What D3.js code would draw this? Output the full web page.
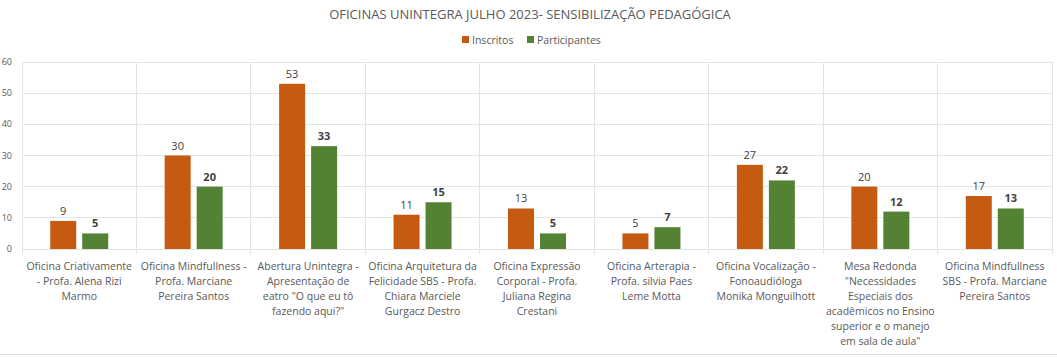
<!DOCTYPE html>
<html><head><meta charset="utf-8">
<script src="https://cdn.jsdelivr.net/npm/d3@7"></script>
<style>body{margin:0;background:#fff}svg{display:block}text{font-family:"Open Sans",sans-serif}</style>
</head><body><svg id="c" width="1057" height="357"></svg>
<script>
const categories = [
 "Oficina Criativamente\n- Profa. Alena Rizi\nMarmo",
 "Oficina Mindfullness -\nProfa. Marciane\nPereira Santos",
 "Abertura Unintegra -\nApresentação de\neatro \"O que eu tô\nfazendo aqui?\"",
 "Oficina Arquitetura da\nFelicidade SBS - Profa.\nChiara Marciele\nGurgacz Destro",
 "Oficina Expressão\nCorporal - Profa.\nJuliana Regina\nCrestani",
 "Oficina Arterapia -\nProfa. silvia Paes\nLeme Motta",
 "Oficina Vocalização -\nFonoaudióloga\nMonika Monguilhott",
 "Mesa Redonda\n\"Necessidades\nEspeciais dos\nacadêmicos no Ensino\nsuperior e o manejo\nem sala de aula\"",
 "Oficina Mindfullness\nSBS - Profa. Marciane\nPereira Santos"
];
const inscritos = [9, 30, 53, 11, 13, 5, 27, 20, 17];
const participantes = [5, 20, 33, 15, 5, 7, 22, 12, 13];
const seriesNames = ["Inscritos", "Participantes"];
const yTicks = [0, 10, 20, 30, 40, 50, 60];
const title = "OFICINAS UNINTEGRA JULHO 2023- SENSIBILIZAÇÃO PEDAGÓGICA";

const colors = ["#C55A11", "#548235"];
const svg = d3.select("#c");
const L = 22, R = 1052, T = 62, B = 249;
const x = d3.scaleBand().domain(d3.range(categories.length)).range([L, R]).paddingInner(0).paddingOuter(0);
const y = d3.scaleLinear().domain([0, 60]).range([B, T]);
const series = [inscritos, participantes];

// gridlines
svg.append("g").selectAll("line").data(yTicks).join("line")
  .attr("x1", L).attr("x2", R).attr("y1", d => y(d)).attr("y2", d => y(d))
  .attr("stroke", "#e3e3e3").attr("stroke-width", 1).attr("shape-rendering","crispEdges");
// vertical category separators
const seps = d3.range(categories.length + 1).map(i => i < categories.length ? x(i) : R);
svg.append("g").selectAll("line").data(seps).join("line")
  .attr("x1", d => d).attr("x2", d => d).attr("y1", T).attr("y2", B + 5)
  .attr("stroke", "#e3e3e3").attr("shape-rendering","crispEdges");

// y labels
svg.append("g").selectAll("text").data(yTicks).join("text")
  .attr("x", 12).attr("y", d => y(d) + 3).attr("text-anchor", "end")
  .attr("font-size", 9).attr("fill", "#595959").text(d => d);

const bw = 26, gap = 6;
series.forEach((s, si) => {
  const off = si === 0 ? -gap/2 - bw : gap/2;
  svg.append("g").selectAll("rect").data(s).join("rect")
    .attr("x", (d, i) => x(i) + x.bandwidth()/2 + off)
    .attr("width", bw)
    .attr("y", d => y(d)).attr("height", d => B - y(d))
    .attr("fill", colors[si]);
  svg.append("g").selectAll("text").data(s).join("text")
    .attr("x", (d, i) => x(i) + x.bandwidth()/2 + off + bw/2)
    .attr("y", d => y(d) - 6)
    .attr("text-anchor", "middle").attr("font-size", 11)
    .attr("font-weight", si === 1 ? "bold" : "normal")
    .attr("fill", "#404040").text(d => d);
});

// category labels
const cl = svg.append("g").selectAll("text").data(categories).join("text")
  .attr("text-anchor", "middle").attr("font-size", 10.5).attr("fill", "#595959");
cl.each(function(d, i) {
  const t = d3.select(this);
  d.split("\n").forEach((ln, j) => {
    t.append("tspan").attr("x", x(i) + x.bandwidth()/2).attr("y", 270 + j * 15).text(ln);
  });
});

// title
svg.append("text").attr("x", 530).attr("y", 19).attr("text-anchor", "middle")
  .attr("font-size", 13).attr("fill", "#595959").text(title);

// legend
const lg = svg.append("g");
const lx = [462, 527];
seriesNames.forEach((n, i) => {
  lg.append("rect").attr("x", lx[i]).attr("y", 36).attr("width", 7).attr("height", 7).attr("fill", colors[i]);
  lg.append("text").attr("x", lx[i] + 10).attr("y", 43.5).attr("font-size", 10.5).attr("fill", "#595959").text(n);
});

// bottom border
svg.append("line").attr("x1", 0).attr("x2", 1057).attr("y1", 354.5).attr("y2", 354.5).attr("stroke", "#e0e0e0");
</script></body></html>
